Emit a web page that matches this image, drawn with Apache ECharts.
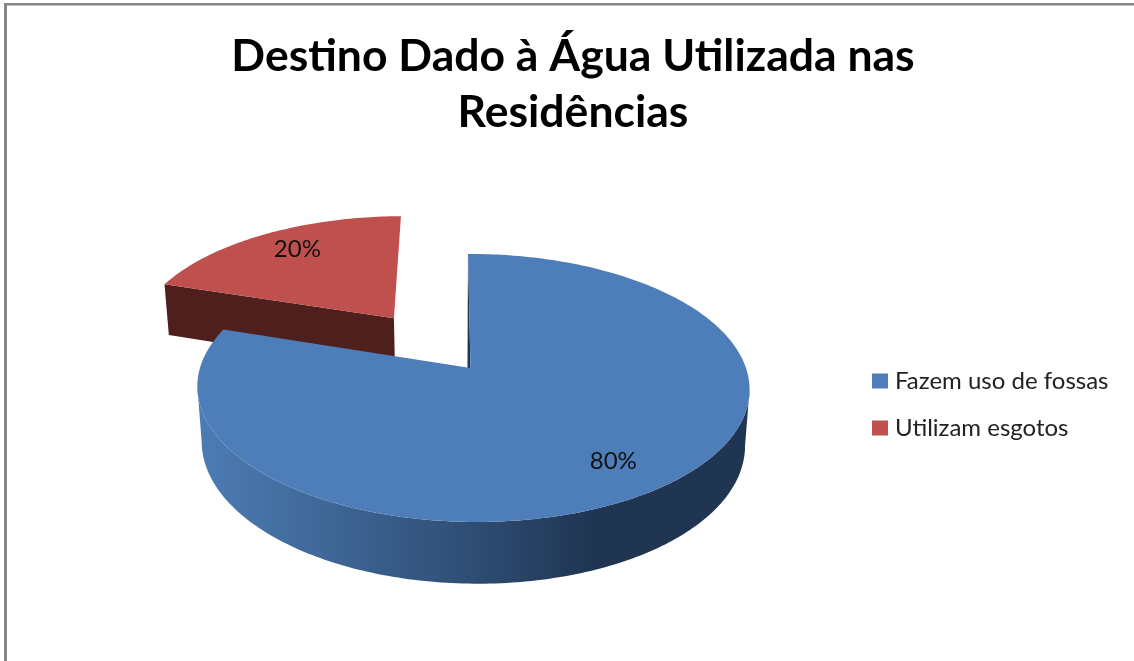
<!DOCTYPE html>
<html><head><meta charset="utf-8">
<style>html,body{margin:0;padding:0;background:#fff}#c{width:1134px;height:661px}</style>
<script src="https://cdn.jsdelivr.net/npm/echarts@6/dist/echarts.min.js"></script>
</head><body><div id="c"></div>
<script>
const categories = ['Fazem uso de fossas', 'Utilizam esgotos'];
const values = [80, 20];
const titleText = 'Destino Dado à Água Utilizada nas\nResidências';

const view = {cx:470.5, cy:368, a:273, b:131, shear:-2.9, k:0.149, m:-0.009, q:0.016, py:56};
const explode = [0, 0.5];
const labelRadius = [0.79, 0.81];
const labelNudge = [[0,0],[10,0]];
const total = values.reduce((s,v)=>s+v,0);
const starts = values.map((_,i)=>values.slice(0,i).reduce((s,v)=>s+v,0)/total*360);
const ends = starts.map((s,i)=>s+values[i]/total*360);

function project(u, v, h){
  const w = 1 + view.k*v + view.m*u + h*view.q;
  return [view.cx + (view.a*u + view.shear*v)/w, view.cy + (-view.b*v + h*view.py)/w];
}
function rad(d){return d*Math.PI/180;}
function offset(i){
  const mid = rad((starts[i]+ends[i])/2);
  return [explode[i]*Math.sin(mid), explode[i]*Math.cos(mid)];
}
function rim(i, deg, h, r){
  const o = offset(i), t = rad(deg), rr = r===undefined?1:r;
  return project(o[0]+rr*Math.sin(t), o[1]+rr*Math.cos(t), h);
}
function arc(i, from, to, h){
  const pts=[], n=Math.ceil(Math.abs(to-from));
  for(let j=0;j<=n;j++) pts.push(rim(i, from+(to-from)*j/n, h));
  return pts;
}
function extremeAngle(i, from, to, sign){
  let best=from, bestX=-Infinity;
  for(let d=from;d<=to;d++){ const x=sign*rim(i,d,0)[0]; if(x>bestX){bestX=x;best=d;} }
  return best;
}
function labelShape(i){
  const p = rim(i,(starts[i]+ends[i])/2,0,labelRadius[i]);
  return {type:'text', z2:10, style:{x:p[0]+labelNudge[i][0], y:p[1]+labelNudge[i][1], text:Math.round(values[i]/total*100)+'%',
    fill:'#111', font:'24px Lato', align:'center', verticalAlign:'middle'}};
}
function renderBlue(){
  const i=0;
  const wallGrad = new echarts.graphic.LinearGradient(197,0,749,0,[
    {offset:0,color:'#4d7cb5'},{offset:0.2,color:'#416a9b'},{offset:0.5,color:'#2e4d74'},
    {offset:0.72,color:'#1f3552'},{offset:1,color:'#1f3552'}],true);
  const right = extremeAngle(i,0,180,1), left = extremeAngle(i,180,ends[i],-1);
  const wall = arc(i,right,left,0).concat(arc(i,left,right,1));
  const top = arc(i,starts[i],ends[i],0).concat([rim(i,0,0,0)]);
  const apex = rim(i,0,0,0), p0 = rim(i,starts[i],0);
  return {type:'group', children:[
    {type:'polygon', shape:{points:wall}, style:{fill:wallGrad}},
    {type:'polygon', shape:{points:[p0,apex,[apex[0]-3,apex[1]]]}, style:{fill:'#1f3552'}},
    {type:'polygon', shape:{points:top}, style:{fill:'#4e7eba'}},
    labelShape(i)
  ]};
}
function renderRed(){
  const i=1;
  const apexT = rim(i,0,0,0), apexB = rim(i,0,1,0);
  const top = arc(i,starts[i],ends[i],0).concat([apexT]);
  const face = [rim(i,starts[i],0), apexT, apexB, rim(i,starts[i],1)];
  return {type:'group', children:[
    {type:'polygon', shape:{points:face}, style:{fill:'#4f1f1e'}},
    {type:'polygon', shape:{points:top}, style:{fill:'#bf504d'}},
    labelShape(i)
  ]};
}
const chart = echarts.init(document.getElementById('c'), null, {renderer:'canvas'});
const cv = document.querySelector('#c canvas');
if(cv){ cv.getContext('2d').textRendering='optimizeSpeed'; }
chart.setOption({
  animation:false,
  backgroundColor:'#fff',
  title:{text:titleText, left:568, top:24, textAlign:'center',
    textStyle:{fontFamily:'Lato', fontWeight:'bold', fontSize:44.5, lineHeight:56, color:'#000'}},
  legend:{data:categories, orient:'vertical', left:867, top:364, itemWidth:16, itemHeight:15, itemGap:23,
    icon:'rect', textStyle:{fontFamily:'Lato', fontSize:24, color:'#222', padding:[0,0,0,2]}},
  graphic:[
    {type:'rect', shape:{x:4,y:3,width:1130,height:2.5}, style:{fill:'#868686'}, silent:true},
    {type:'rect', shape:{x:4,y:3,width:3,height:658}, style:{fill:'#868686'}, silent:true}
  ],
  series:[
    {type:'custom', name:categories[0], coordinateSystem:'none', z:3, data:[values[0]], renderItem:renderBlue, itemStyle:{color:'#4e7eba'}},
    {type:'custom', name:categories[1], coordinateSystem:'none', z:2, data:[values[1]], renderItem:renderRed, itemStyle:{color:'#bf504d'}}
  ]
});
</script></body></html>
